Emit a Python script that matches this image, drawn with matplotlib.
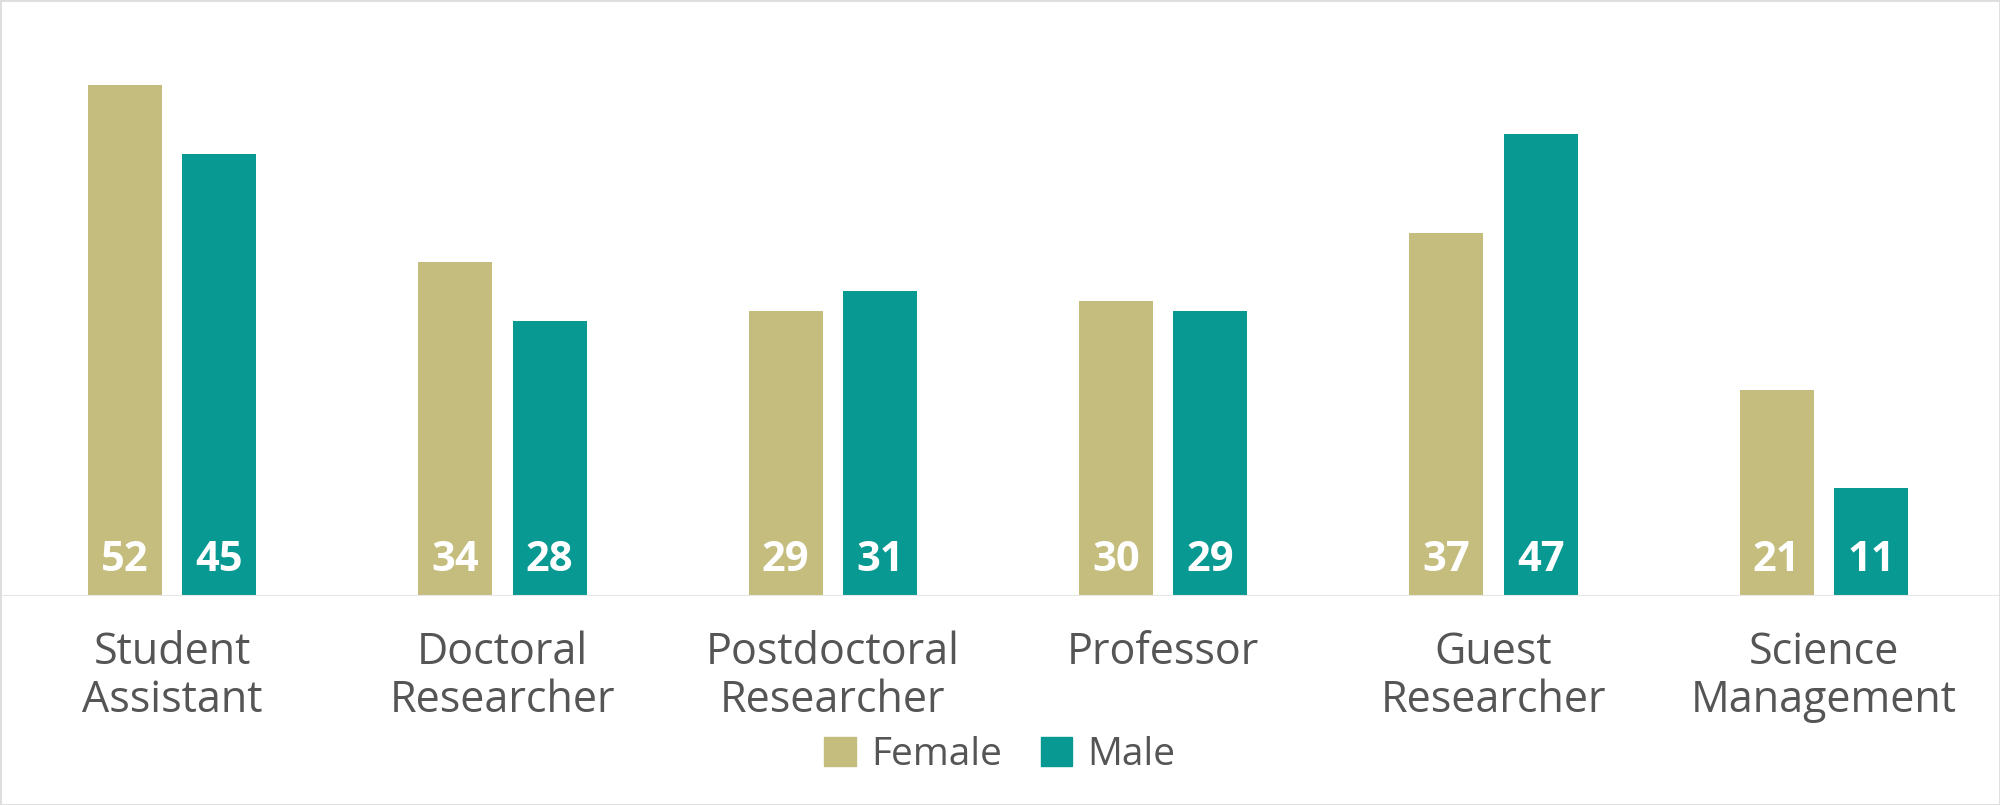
import matplotlib.pyplot as plt
import matplotlib.patches as mpatches
import numpy as np

categories = ["Student\nAssistant", "Doctoral\nResearcher", "Postdoctoral\nResearcher",
              "Professor", "Guest\nResearcher", "Science\nManagement"]
female = [52, 34, 29, 30, 37, 21]
male = [45, 28, 31, 29, 47, 11]

FEMALE_C = "#C5BD7E"
MALE_C = "#089993"
TEXT_C = "#555555"

plt.rcParams['font.family'] = ['Open Sans', 'DejaVu Sans']

fig = plt.figure(figsize=(20, 8.05), dpi=100)
ax = fig.add_axes([0, 0.26, 1, 0.74])

x = np.arange(len(categories))
w = 0.224
off = 0.143
bf = ax.bar(x - off, female, w, color=FEMALE_C)
bm = ax.bar(x + off, male, w, color=MALE_C)

for bars in (bf, bm):
    for b in bars:
        ax.text(b.get_x() + b.get_width() / 2, 1.5, str(int(b.get_height())),
                ha='center', va='bottom', color='white', fontsize=30, fontweight='bold')

ax.set_xlim(-0.521, 5.533)
ax.set_ylim(0, 60.7)
ax.axhline(0, color="#e6e6e6", lw=1.5)
for s in ax.spines.values():
    s.set_visible(False)
ax.set_yticks([])
ax.set_xticks(x)
ax.set_xticklabels(categories, fontsize=31, color=TEXT_C, linespacing=1.1)
ax.tick_params(axis='x', length=0, pad=25)

handles = [mpatches.Patch(color=FEMALE_C, label="Female"),
           mpatches.Patch(color=MALE_C, label="Male")]
fig.legend(handles=handles, loc='lower center', bbox_to_anchor=(0.5, -0.005), ncol=2,
           frameon=False, fontsize=28, labelcolor=TEXT_C, handlelength=0.8,
           handleheight=0.8, columnspacing=1.0, handletextpad=0.4)

fig.patches.append(mpatches.Rectangle((0, 0), 1, 1, transform=fig.transFigure,
                                      fill=False, edgecolor="#dddddd", lw=2))
fig.savefig("out.png", dpi=100)
